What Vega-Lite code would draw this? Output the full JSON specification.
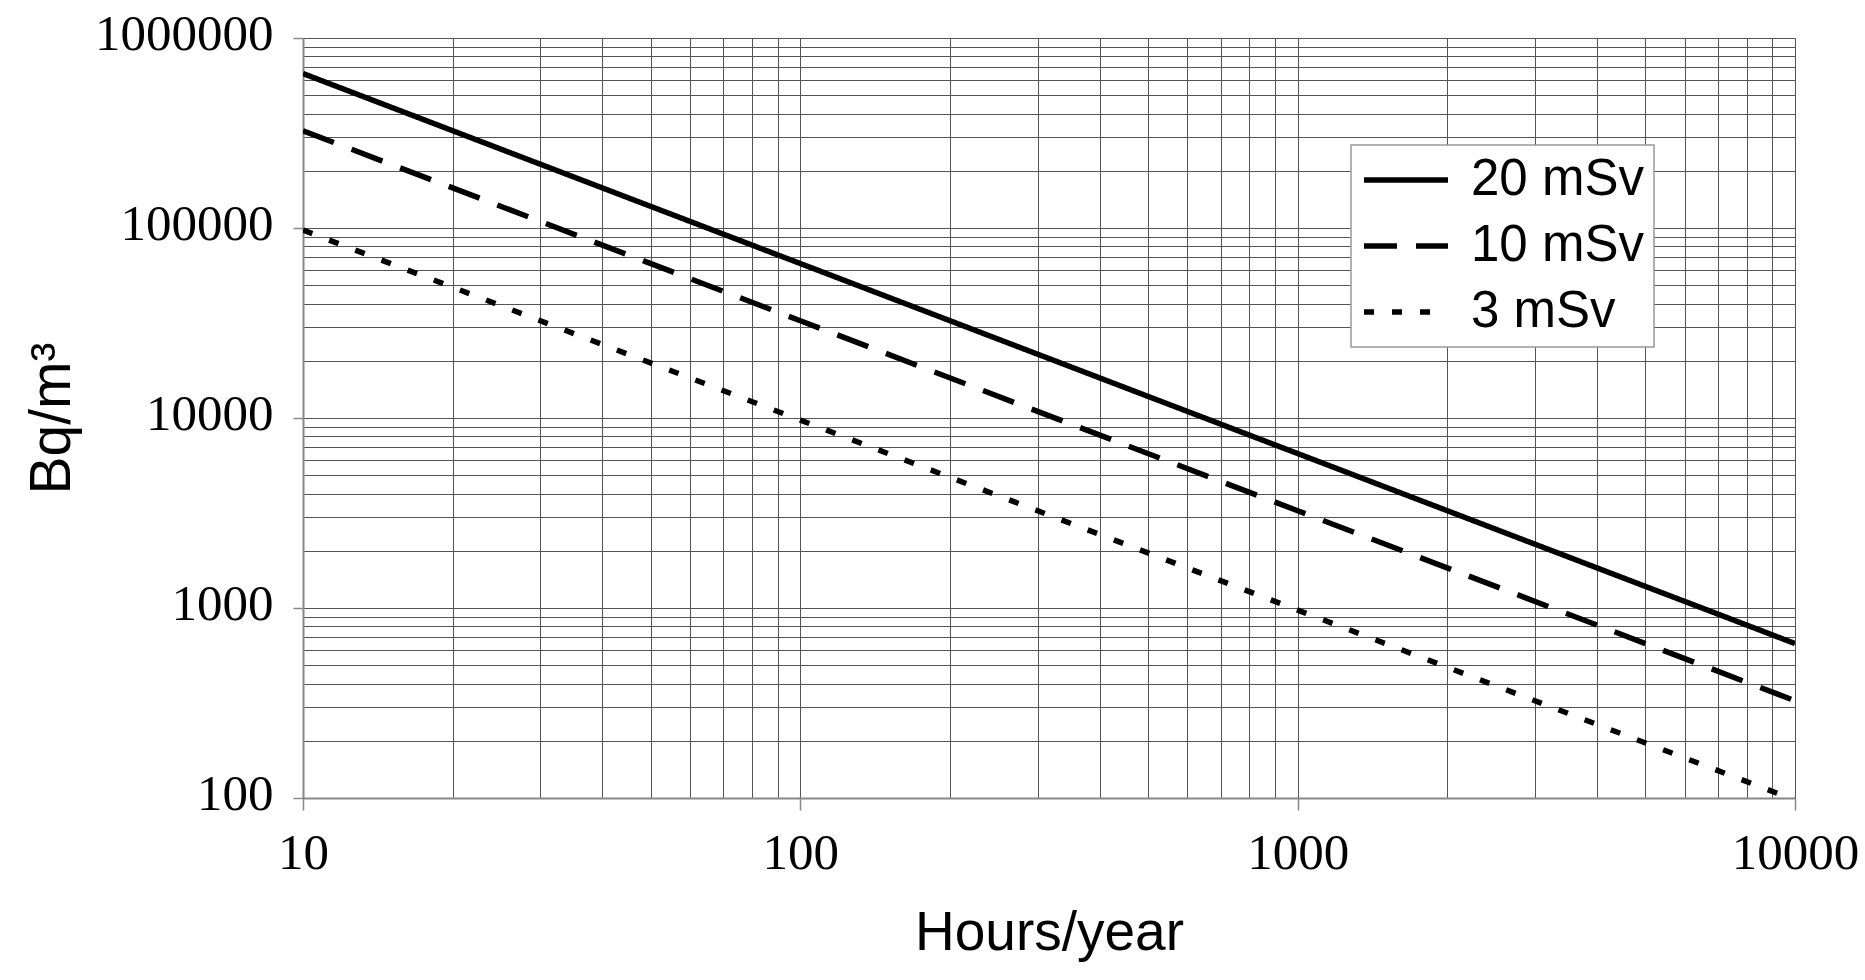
{
  "$schema": "https://vega.github.io/schema/vega-lite/v6.json",
  "autosize": "none",
  "width": 1492,
  "height": 760,
  "padding": {"left": 303, "top": 38, "right": 70, "bottom": 182},
  "background": "white",
  "config": {
    "view": {"stroke": null}
  },
  "data": {
    "values": [
      {"hours": 10, "bq": 650000, "dose": "20 mSv"},
      {"hours": 100, "bq": 65000, "dose": "20 mSv"},
      {"hours": 1000, "bq": 6500, "dose": "20 mSv"},
      {"hours": 10000, "bq": 650, "dose": "20 mSv"},
      {"hours": 10, "bq": 325000, "dose": "10 mSv"},
      {"hours": 100, "bq": 32500, "dose": "10 mSv"},
      {"hours": 1000, "bq": 3250, "dose": "10 mSv"},
      {"hours": 10000, "bq": 325, "dose": "10 mSv"},
      {"hours": 10, "bq": 97500, "dose": "3 mSv"},
      {"hours": 100, "bq": 9750, "dose": "3 mSv"},
      {"hours": 1000, "bq": 975, "dose": "3 mSv"},
      {"hours": 10000, "bq": 97.5, "dose": "3 mSv"}
    ]
  },
  "mark": {"type": "line", "color": "black", "strokeWidth": 5.5, "strokeCap": "butt", "clip": true},
  "encoding": {
    "x": {
      "field": "hours",
      "type": "quantitative",
      "scale": {"type": "log", "domain": [10, 10000], "nice": false},
      "axis": {
        "title": "Hours/year",
        "values": [10,20,30,40,50,60,70,80,90,100,200,300,400,500,600,700,800,900,1000,2000,3000,4000,5000,6000,7000,8000,9000,10000],
        "format": "d",
        "labelExpr": "indexof([10,100,1000,10000], datum.value) >= 0 ? datum.label : ''",
        "labelFont": "Liberation Serif",
        "labelFontSize": 51,
        "labelColor": "black",
        "labelPadding": 18,
        "labelFlush": false,
        "labelOverlap": false,
        "tickSize": 12,
        "tickColor": "#888888",
        "tickWidth": 1.5,
        "tickOpacity": {"condition": {"test": "indexof([10,100,1000,10000], datum.value) >= 0", "value": 1}, "value": 0},
        "domainColor": "#888888",
        "domainWidth": 2,
        "grid": true,
        "gridColor": "#555555",
        "gridWidth": 1,
        "titleFont": "Liberation Sans",
        "titleFontSize": 55,
        "titleFontWeight": "normal",
        "titleColor": "black",
        "titlePadding": 28
      }
    },
    "y": {
      "field": "bq",
      "type": "quantitative",
      "scale": {"type": "log", "domain": [100, 1000000], "nice": false},
      "axis": {
        "title": "Bq/m³",
        "values": [100,200,300,400,500,600,700,800,900,1000,2000,3000,4000,5000,6000,7000,8000,9000,10000,20000,30000,40000,50000,60000,70000,80000,90000,100000,200000,300000,400000,500000,600000,700000,800000,900000,1000000],
        "format": "d",
        "labelExpr": "indexof([100,1000,10000,100000,1000000], datum.value) >= 0 ? datum.label : ''",
        "labelFont": "Liberation Serif",
        "labelFontSize": 51,
        "labelColor": "black",
        "labelPadding": 20,
        "labelFlush": false,
        "labelOverlap": false,
        "labelOffset": -4,
        "tickSize": 10,
        "tickColor": "#888888",
        "tickWidth": 1.5,
        "tickOpacity": {"condition": {"test": "indexof([100,1000,10000,100000,1000000], datum.value) >= 0", "value": 1}, "value": 0},
        "domainColor": "#888888",
        "domainWidth": 2,
        "grid": true,
        "gridColor": "#555555",
        "gridWidth": 1,
        "titleFont": "Liberation Sans",
        "titleFontSize": 57,
        "titleFontWeight": "normal",
        "titleColor": "black",
        "titlePadding": 22
      }
    },
    "strokeDash": {
      "field": "dose",
      "type": "nominal",
      "scale": {"domain": ["20 mSv", "10 mSv", "3 mSv"], "range": [[1, 0], [33, 19], [10, 18]]},
      "legend": {
        "title": null,
        "orient": "none",
        "legendX": 1048,
        "legendY": 107,
        "symbolType": "stroke",
        "symbolSize": 7056,
        "symbolStrokeWidth": 5.5,
        "symbolStrokeColor": "black",
        "clipHeight": 50,
        "rowPadding": 15,
        "labelFont": "Liberation Sans",
        "labelFontSize": 51,
        "labelColor": "black",
        "labelOffset": 20,
        "labelLimit": 400,
        "padding": 10,
        "fillColor": "white",
        "strokeColor": "#999999",
        "encode": {"legend": {"update": {"strokeWidth": {"value": 1.5}}}}
      }
    }
  }
}
